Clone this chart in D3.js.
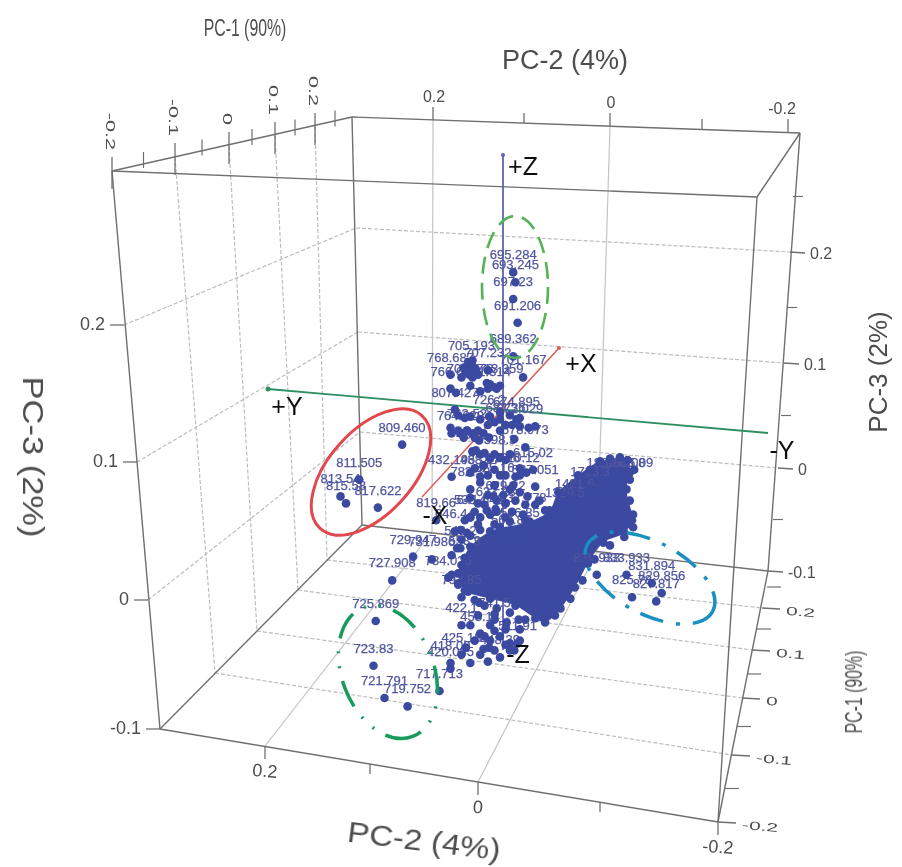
<!DOCTYPE html>
<html>
<head>
<meta charset="utf-8">
<script src="https://cdn.jsdelivr.net/npm/d3@7"></script>
<style>
  body { margin: 0; background: #fff; }
  text { font-family: "Liberation Sans", Arial, sans-serif; }
</style>
</head>
<body>
<div id="chart"></div>
<script>
//
// Values: [PC-2, PC-3, m/z label]
//
const clusterTop = [
  [-0.032, 0.234, '695.284'], [-0.034, 0.227, '693.245'], [-0.032, 0.215, '697.23'],
  [-0.036, 0.198, '691.206'], [-0.032, 0.174, '689.362'], [-0.041, 0.159, '701.167']
]
const clusterCentre = [
  [0.006, 0.169, '705.193'], [-0.009, 0.164, '707.232'], [0.025, 0.161, '768.687'],
  [0.025, 0.151, '766.67'], [0.007, 0.153, '709.273'], [-0.009, 0.151, '711.314'],
  [-0.020, 0.153, '713.359'], [0.021, 0.136, '807.427'], [-0.035, 0.129, '674.895'],
  [0.016, 0.119, '764.629'], [-0.038, 0.124, '672.029'], [-0.043, 0.109, '578.973'],
  [-0.050, 0.093, '615.02'], [-0.052, 0.081, '587.051'], [0.024, 0.088, '432.196'],
  [-0.002, 0.088, '438.27'], [-0.020, 0.089, '592.16'], [-0.038, 0.089, '610.12'],
  [0.007, 0.079, '782.39'], [-0.041, 0.061, '637.778'], [0.038, 0.057, '819.66'],
  [-0.002, 0.059, '641.642'], [0.021, 0.049, '646.44'], [0.016, 0.037, '548.2'],
  [-0.016, 0.065, '633.28'], [-0.030, 0.045, '560.85'], [0.010, 0.121, '762.52'],
  [-0.010, 0.131, '726.2'], [-0.025, 0.125, '684.36'], [0.005, 0.106, '433.1'],
  [-0.020, 0.102, '598.3'], [-0.015, 0.082, '625.16'], [-0.025, 0.069, '629.22'],
  [0.007, 0.059, '535.4'], [-0.038, 0.050, '566.85'], [0.012, 0.030, '553.9']
]
const clusterLeft = [
  [0.069, 0.111, '809.460'], [0.108, 0.086, '811.505'], [0.125, 0.074, '813.54'],
  [0.120, 0.069, '815.58'], [0.091, 0.066, '817.622']
]
const clusterMiddle = [
  [0.059, 0.031, '729.947'], [0.042, 0.029, '731.986'], [0.078, 0.014, '727.908'],
  [0.027, 0.016, '784.025'], [0.015, 0.002, '793.85']
]
const clusterBottom = [
  [0.093, -0.015, '725.869'], [0.095, -0.047, '723.83'], [0.085, -0.070, '721.791'],
  [0.064, -0.076, '719.752'], [0.035, -0.065, '717.713']
]
const clusterLower = [
  [0.025, -0.049, '420.085'], [0.025, -0.045, '418.09'], [0.015, -0.039, '425.18'],
  [-0.002, -0.024, '458.14'], [0.015, -0.018, '422.1'], [-0.015, -0.014, '741.5'],
  [-0.036, -0.031, '511.91'], [-0.020, -0.041, '448.39']
]
const clusterRight = [
  [-0.108, 0.018, '835.933'], [-0.135, 0.018, '833.933'], [-0.158, 0.012, '831.894'],
  [-0.140, 0.002, '825.78'], [-0.167, 0.005, '829.856'], [-0.162, -0.001, '827.817']
]
const clusterArm = [
  [-0.120, 0.086, '1805.08'], [-0.131, 0.086, '1805.08'], [-0.138, 0.086, '1805.09'],
  [-0.102, 0.079, '1733.3'], [-0.088, 0.071, '1421.6'], [-0.079, 0.064, '1329.5']
]

// Peaks with no readable label: [PC-2, PC-3]
const unlabelled = [
  [0.007, 0.167], [0.004, 0.163], [0.011, 0.163], [0.000, 0.161], [0.015, 0.159],
  [-0.002, 0.149], [-0.008, 0.155], [0.020, 0.148], [-0.015, 0.152], [0.007, 0.131],
  [-0.002, 0.129], [-0.011, 0.131], [-0.020, 0.129], [-0.029, 0.132], [-0.025, 0.125],
  [0.024, 0.119], [0.015, 0.119], [0.005, 0.119], [-0.005, 0.119], [-0.001, 0.114],
  [-0.010, 0.116], [-0.033, 0.115], [-0.046, 0.123], [-0.020, 0.121], [0.005, 0.106],
  [-0.002, 0.104], [-0.020, 0.102], [-0.029, 0.104], [-0.011, 0.101], [-0.009, 0.089],
  [-0.034, 0.088], [0.007, 0.091], [-0.029, 0.079], [-0.015, 0.082], [-0.002, 0.084],
  [-0.009, 0.075], [-0.017, 0.071], [-0.025, 0.069], [0.007, 0.059], [-0.011, 0.061],
  [-0.025, 0.059], [-0.002, 0.050], [0.010, 0.048], [-0.020, 0.052], [-0.038, 0.050],
  [0.012, 0.030], [0.018, 0.012], [-0.001, -0.002], [-0.015, -0.010], [-0.026, -0.016],
  [-0.037, -0.014], [-0.015, -0.022], [-0.029, -0.031], [-0.006, -0.026], [-0.020, -0.026],
  [-0.009, -0.044], [-0.005, -0.035], [-0.010, -0.034], [-0.033, -0.036], [0.011, -0.034],
  [0.009, 0.170], [0.005, 0.171], [0.002, 0.165], [0.013, 0.166], [0.008, 0.161],
  [0.005, 0.159], [-0.011, 0.154], [-0.017, 0.151], [0.018, 0.121], [0.010, 0.121],
  [0.000, 0.121], [0.003, 0.116], [0.013, 0.116], [-0.031, 0.125], [-0.038, 0.130],
  [-0.020, 0.134], [-0.015, 0.127], [-0.009, 0.125], [0.012, 0.130], [0.018, 0.132],
  [0.025, 0.123], [-0.052, 0.124], [0.002, 0.107], [-0.006, 0.105], [-0.015, 0.104],
  [-0.025, 0.100], [-0.038, 0.094], [0.003, 0.094], [-0.005, 0.096], [-0.015, 0.093],
  [-0.025, 0.089], [-0.044, 0.091], [0.007, 0.073], [0.000, 0.069], [-0.006, 0.068],
  [-0.014, 0.074], [-0.023, 0.075], [-0.032, 0.082], [-0.038, 0.077], [-0.045, 0.074],
  [-0.034, 0.071], [-0.043, 0.068], [-0.056, 0.071], [0.012, 0.057], [0.003, 0.063],
  [-0.008, 0.064], [-0.017, 0.063], [-0.031, 0.063], [-0.052, 0.068], [0.000, 0.054],
  [0.007, 0.046], [0.015, 0.043], [0.019, 0.037], [0.024, 0.032], [0.016, 0.050],
  [-0.015, 0.054], [-0.029, 0.056], [-0.043, 0.057], [-0.061, 0.064], [0.015, 0.025],
  [0.024, 0.018], [0.018, 0.011], [0.009, 0.006], [0.003, 0.000], [-0.006, -0.004],
  [-0.017, -0.006], [-0.029, -0.009], [-0.043, -0.014], [0.000, -0.011], [0.007, -0.018],
  [-0.011, -0.018], [-0.025, -0.021], [-0.038, -0.021], [0.003, -0.029], [-0.011, -0.029],
  [-0.025, -0.032], [-0.038, -0.029], [-0.002, -0.039], [-0.015, -0.036], [0.007, -0.045],
  [-0.029, -0.036], [-0.084, 0.071], [-0.102, 0.093], [-0.120, 0.101], [-0.129, 0.102],
  [-0.142, 0.093], [-0.138, 0.071], [-0.141, 0.061], [-0.141, 0.052], [-0.133, 0.045],
  [-0.120, 0.039], [-0.106, 0.029], [-0.095, 0.014], [-0.084, 0.001], [-0.070, -0.011]
]

// Outline of the dense mass of overlapping peaks: [PC-2, PC-3]
const denseCloud = [
  [-0.111, 0.099], [-0.136, 0.100], [-0.138, 0.091], [-0.135, 0.079], [-0.140, 0.057],
  [-0.133, 0.048], [-0.114, 0.041], [-0.100, 0.026], [-0.088, 0.009], [-0.075, -0.006],
  [-0.061, -0.016], [-0.052, -0.013], [-0.034, -0.004], [-0.011, 0.001], [0.012, 0.007],
  [0.018, 0.019], [0.007, 0.038], [-0.011, 0.049], [-0.047, 0.056], [-0.065, 0.064],
  [-0.073, 0.077], [-0.091, 0.089]
]

const tickPc1 = [-0.2, -0.1, 0, 0.1, 0.2]
const tickPc2 = [0.2, 0.1, 0, -0.1, -0.2]
const tickPc3 = [-0.1, 0, 0.1, 0.2]
const minorPc1 = [-0.15, -0.05, 0.05, 0.15, 0.25]
const minorPc3 = [-0.05, 0.05, 0.15, 0.25]

const width = 902
const height = 867
const peakColour = '#3a49a1'
const labelColour = '#50569f'
const frameColour = '#6f6f6f'
const gridColour = '#bdbdbd'

const svg = d3.select('#chart')
  .append('svg')
  .attr('width', width)
  .attr('height', height)
  .attr('viewBox', [0, 0, width, height])

// Soft edges, the reference is a scanned raster
svg.append('filter').attr('id', 'soft')
  .append('feGaussianBlur').attr('stdDeviation', 0.55)

const g = svg.append('g').attr('filter', 'url(#soft)')

//
// Scales: peaks are read against the projected axes, the box edges are
// scales with [x, y] ranges so a tick value gives a point on the edge
//
const x = d3.scaleLinear().domain([-0.2, 0.2]).range([698, 258])
const y = d3.scaleLinear().domain([-0.1, 0.2]).range([740, 320])

const edge = (domain, range) => d3.scaleLinear().domain(domain).range(range)
const frontPc2 = edge(tickPc2, [[265, 746], [370, 764], [478, 782], [600, 802], [718, 822]])
const topPc2 = edge(tickPc2, [[433, 120], [524, 123], [610, 126], [702, 129], [788, 132]])
const floorPc2 = edge([0.2, 0], [[432, 532], [597, 552]])
const leftPc3 = edge(tickPc3, [[160, 729], [148, 600], [137, 462], [124, 325]])
const backPc3 = edge(tickPc3, [[362, 525], [360, 432], [358, 332], [356, 228]])
const rightPc3 = edge(tickPc3, [[768, 571], [778, 468], [784, 363], [790, 252]])
const topPc1 = edge(tickPc1, [[112, 171], [175, 157], [229, 146], [275, 136], [315, 127]])
const floorLeftPc1 = edge(tickPc1, [[160, 729], [215, 673], [257, 631], [298, 590], [327, 560]])
const floorRightPc1 = edge(tickPc1, [[718, 822], [732, 755], [742, 698], [752, 650], [762, 608]])

const tickText = v => v === 0 ? '0' : d3.format('.1f')(v).replace('\u2212', '-')

function segment (a, b, colour, strokeWidth, dash) {
  g.append('line')
    .attr('x1', a[0]).attr('y1', a[1])
    .attr('x2', b[0]).attr('y2', b[1])
    .attr('stroke', colour)
    .attr('stroke-width', strokeWidth)
    .attr('stroke-dasharray', dash || null)
}

function label (text, px, py, opts) {
  const o = opts || {}
  g.append('text')
    .attr('transform', `translate(${px},${py}) rotate(${o.rotate || 0}) scale(${o.sx || 1},${o.sy || 1})`)
    .attr('text-anchor', o.anchor || 'middle')
    .attr('dominant-baseline', 'central')
    .attr('font-size', o.size || 18)
    .attr('fill', o.fill || '#4d4d4d')
    .text(text)
}

//
// Grid lines
//
const dash = '4 2'
tickPc3.slice(1).forEach(v => {
  segment(leftPc3(v), backPc3(v), gridColour, 1.2, dash)
  segment(backPc3(v), rightPc3(v), gridColour, 1.2, dash)
})
tickPc1.slice(1).forEach(v => {
  segment(floorLeftPc1(v), floorRightPc1(v), gridColour, 1.2, dash)
  segment(topPc1(v), floorLeftPc1(v), gridColour, 1.2, dash)
})
;[0.2, 0].forEach(v => {
  segment(frontPc2(v), floorPc2(v), '#c4c4c4', 1.2)
  segment(topPc2(v), floorPc2(v), '#c4c4c4', 1.2)
})

//
// Box frame
//
const frame = [
  [[112, 171], [352, 117]], [[352, 117], [800, 133]], [[800, 133], [757, 197]],
  [[112, 171], [757, 197]], [[112, 171], [160, 729]], [[757, 197], [718, 822]],
  [[352, 117], [362, 525]], [[800, 133], [768, 571]], [[160, 729], [718, 822]],
  [[160, 729], [362, 525]], [[362, 525], [768, 571]], [[718, 822], [768, 571]]
]
frame.forEach(d => segment(d[0], d[1], frameColour, 1.4))

//
// Ticks and tick labels
//
tickPc2.forEach(v => {
  const f = frontPc2(v)
  const t = topPc2(v)
  const major = Math.abs(v) !== 0.1
  segment(f, [f[0], f[1] + (major ? 13 : 10)], frameColour, 1.3)
  segment(t, [t[0], t[1] - (major ? 13 : 10)], frameColour, 1.3)
  if (major) {
    label(tickText(v), f[0], f[1] + 25, { size: 18, rotate: 4 })
    label(tickText(v), t[0] + (v === -0.2 ? -6 : 1), t[1] - 24, { size: 16 })
  }
})
tickPc3.forEach(v => {
  const l = leftPc3(v)
  const r = rightPc3(v)
  segment(l, [l[0] - 14, l[1]], frameColour, 1.3)
  segment(r, [r[0] + 15, r[1] + 1], frameColour, 1.3)
  label(tickText(v), l[0] - 19, l[1] - 1, { anchor: 'end', size: 18 })
  label(tickText(v), r[0] + 20, r[1] + 1, { anchor: 'start', size: 16 })
})
minorPc3.forEach(v => {
  const r = rightPc3(v)
  segment(r, [r[0] + 10, r[1]], frameColour, 1.2)
})
tickPc1.forEach(v => {
  const t = topPc1(v)
  const r = floorRightPc1(v)
  segment([t[0], t[1] + 18], [t[0], t[1] - 14], frameColour, 1.3)
  segment(r, [r[0] + 18, r[1] + 1], frameColour, 1.3)
  label(tickText(v), t[0] - 1, t[1] - 21, { anchor: 'end', rotate: 90, size: 16, sx: 1.35, sy: 0.85 })
  label(tickText(v), r[0] + 24, r[1] + 3, { anchor: 'start', rotate: 5, size: 15, sx: 1.4, sy: 0.8 })
})
minorPc1.forEach(v => {
  const t = topPc1(v)
  const r = floorRightPc1(v)
  segment([t[0], t[1] + 4], [t[0], t[1] - 12], frameColour, 1.2)
  segment(r, [r[0] + 14, r[1]], frameColour, 1.2)
})

//
// Axis titles
//
label('PC-2 (4%)', 565, 60, { size: 27 })
label('PC-1 (90%)', 245, 28, { size: 24, sx: 0.66 })
label('PC-3 (2%)', 878, 372, { size: 26, rotate: -90 })
label('PC-3 (2%)', 33, 457, { size: 30, rotate: 90, sx: 1.15 })
label('PC-2 (4%)', 424, 841, { size: 30, rotate: 7, sx: 1.1 })
label('PC-1 (90%)', 854, 692, { size: 24, rotate: -90, sx: 0.66 })

//
// +/- direction lines
//
segment([503, 155], [503, 650], '#5f63b5', 1.8)
segment([268, 389], [768, 433], '#2f8f63', 1.8)
segment([559, 348], [422, 497], '#d9635c', 1.6)
g.append('circle').attr('cx', 268).attr('cy', 389).attr('r', 2.5).attr('fill', '#2f8f63')
g.append('circle').attr('cx', 503).attr('cy', 155).attr('r', 2).attr('fill', '#5f63b5')
g.append('circle').attr('cx', 559).attr('cy', 348).attr('r', 2).attr('fill', '#d9635c')

//
// Dense mass, labels, then the peaks on top
//
const cloudPath = d3.line()
  .x(d => x(d[0]))
  .y(d => y(d[1]))
  .curve(d3.curveCatmullRomClosed)
g.append('path')
  .attr('d', cloudPath(denseCloud))
  .attr('fill', peakColour)

const labelled = [].concat(clusterTop, clusterCentre, clusterLeft, clusterMiddle,
  clusterBottom, clusterLower, clusterRight, clusterArm)

g.append('g')
  .selectAll('text')
  .data(labelled)
  .join('text')
  .attr('x', d => x(d[0]))
  .attr('y', d => y(d[1]) - 13)
  .attr('text-anchor', 'middle')
  .attr('font-size', 13)
  .attr('fill', labelColour)
  .attr('stroke', labelColour)
  .attr('stroke-width', 0.25)
  .text(d => d[2])

g.append('g')
  .selectAll('circle')
  .data(labelled.concat(unlabelled, denseCloud))
  .join('circle')
  .attr('cx', d => x(d[0]))
  .attr('cy', d => y(d[1]))
  .attr('r', 4.3)
  .attr('fill', peakColour)

//
// Cluster rings
//
const rings = [
  { cx: 515, cy: 287, rx: 33, ry: 71, angle: 0, stroke: '#55b257', w: 2.6, dash: '17 9' },
  { cx: 371, cy: 472, rx: 76, ry: 42, angle: -48, stroke: '#e2474d', w: 3, dash: null },
  { cx: 388, cy: 672, rx: 69, ry: 46, angle: 69, stroke: '#179b5d', w: 3.5, dash: '28 13 2 13 2 13' },
  { cx: 650, cy: 578, rx: 71, ry: 36, angle: 28, stroke: '#1a8fc1', w: 3.5, dash: '24 13 4 13' }
]
g.append('g')
  .selectAll('ellipse')
  .data(rings)
  .join('ellipse')
  .attr('transform', d => `translate(${d.cx},${d.cy}) rotate(${d.angle})`)
  .attr('rx', d => d.rx)
  .attr('ry', d => d.ry)
  .attr('fill', 'none')
  .attr('stroke', d => d.stroke)
  .attr('stroke-width', d => d.w)
  .attr('stroke-dasharray', d => d.dash)

//
// Direction labels
//
const directions = [
  ['+Z', 523, 166], ['+X', 581, 363], ['+Y', 287, 406],
  ['-Y', 782, 450], ['-X', 435, 515], ['-Z', 518, 654]
]
directions.forEach(d => label(d[0], d[1], d[2], { size: 25, fill: '#111' }))
</script>
</body>
</html>
